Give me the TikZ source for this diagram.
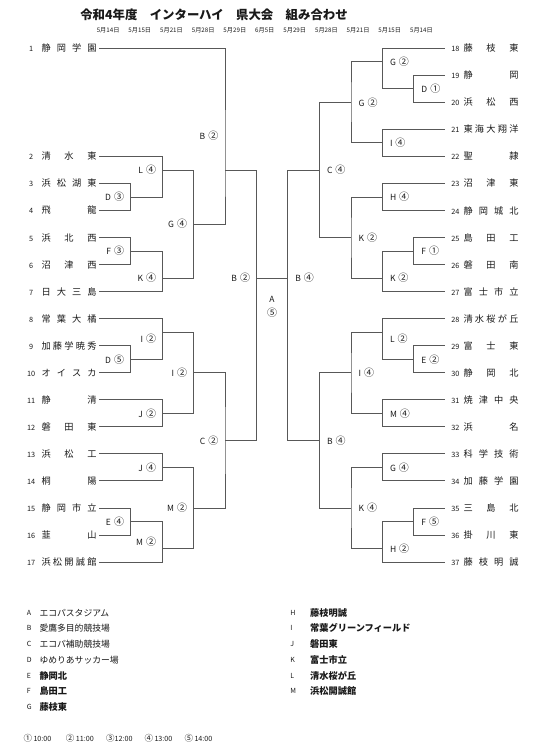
\documentclass[tikz,border=0pt]{standalone}
\usepackage{fontspec}
\setmainfont{Noto Sans CJK JP}
\usepackage{tikz}
\usetikzlibrary{positioning}
\definecolor{wire}{RGB}{88,88,88}
\definecolor{ink}{RGB}{25,25,25}

% spread the characters of a school name over a fixed width
\newcommand\spnm[1]{\makebox[55pt][l]{\spstep#1\relax}}
\def\spstep#1#2{#1\ifx\relax#2\expandafter\spstop\fi\hfill\spstep#2}
\def\spstop#1#2{}
\newcommand\tmL[2]{\makebox[20.8pt]{\fontsize{7.3}{7.3}\selectfont #1}\spnm{#2}}
\newcommand\tmR[2]{\makebox[16.2pt]{\fontsize{7.3}{7.3}\selectfont #1}\spnm{#2}}
% venue letter and kick-off mark
\newcommand\vk[2]{#1\hspace{3pt}{\fontsize{10}{10}\selectfont #2}}

\begin{document}
\begin{tikzpicture}[x=1pt,y=-1pt,
  ln/.style={wire,line width=0.9pt},
  teamL/.style={anchor=east,inner xsep=2.6pt,inner ysep=0pt,text=ink,font=\fontsize{9.2}{9.2}\selectfont},
  teamR/.style={anchor=west,inner xsep=2.6pt,inner ysep=0pt,text=ink,font=\fontsize{9.2}{9.2}\selectfont},
  lbL/.style={anchor=east,inner sep=0pt,xshift=-6.5pt,text=ink,font=\fontsize{8.5}{8.5}\selectfont},
  lbR/.style={anchor=west,inner sep=0pt,xshift=7.5pt,text=ink,font=\fontsize{8.5}{8.5}\selectfont},
  key/.style={anchor=west,inner sep=0pt,text=ink,font=\fontsize{7}{7}\selectfont},
  site/.style={anchor=west,inner sep=0pt,text=ink,font=\fontsize{8.8}{8.8}\selectfont},
  host/.style={anchor=west,inner sep=0pt,text=ink,font=\bfseries\fontsize{9.2}{9.2}\selectfont},
  tm/.style={anchor=west,inner sep=0pt,text=ink,font=\fontsize{7.2}{7.2}\selectfont}]
\useasboundingbox (0,0) rectangle (543,752);
\node[text=ink,font=\bfseries\fontsize{12.4}{12.4}\selectfont] (ttl) at (214,15) {令和4年度　インターハイ　県大会　組み合わせ};
\node[inner sep=0pt,text=ink,font=\fontsize{6.2}{6.2}\selectfont] (dts) at (264.8,30.7)
  {\makebox[336pt]{5月14日\hfill 5月15日\hfill 5月21日\hfill 5月28日\hfill 5月29日\hfill 6月5日\hfill 5月29日\hfill 5月28日\hfill 5月21日\hfill 5月15日\hfill 5月14日}};

\begin{scope}[yshift=-48.3pt,y=-13.52pt]
% left half
\node[teamL] (t1) at (99.3,0) {\tmL{1}{静岡学園}};
\node[teamL] (t2) at (99.3,8) {\tmL{2}{清水東}};
\node[teamL] (t3) at (99.3,10) {\tmL{3}{浜松湖東}};
\node[teamL] (t4) at (99.3,12) {\tmL{4}{飛龍}};
\node[teamL] (t5) at (99.3,14) {\tmL{5}{浜北西}};
\node[teamL] (t6) at (99.3,16) {\tmL{6}{沼津西}};
\node[teamL] (t7) at (99.3,18) {\tmL{7}{日大三島}};
\node[teamL] (t8) at (99.3,20) {\tmL{8}{常葉大橘}};
\node[teamL] (t9) at (99.3,22) {\tmL{9}{加藤学暁秀}};
\node[teamL] (t10) at (99.3,24) {\tmL{10}{オイスカ}};
\node[teamL] (t11) at (99.3,26) {\tmL{11}{静清}};
\node[teamL] (t12) at (99.3,28) {\tmL{12}{磐田東}};
\node[teamL] (t13) at (99.3,30) {\tmL{13}{浜松工}};
\node[teamL] (t14) at (99.3,32) {\tmL{14}{桐陽}};
\node[teamL] (t15) at (99.3,34) {\tmL{15}{静岡市立}};
\node[teamL] (t16) at (99.3,36) {\tmL{16}{韮山}};
\node[teamL] (t17) at (99.3,38) {\tmL{17}{浜松開誠館}};

\coordinate (dD3) at (130.7,11); \draw[ln] (t3.east) -| (dD3) |- (t4.east); \node[lbL] at (130.7,11) {\vk{D}{③}};
\coordinate (dL4) at (162.7,9); \draw[ln] (t2.east) -| (dL4) |- (dD3); \node[lbL] at (162.7,9) {\vk{L}{④}};
\coordinate (dF3) at (130.7,15); \draw[ln] (t5.east) -| (dF3) |- (t6.east); \node[lbL] at (130.7,15) {\vk{F}{③}};
\coordinate (dK4) at (162.7,17); \draw[ln] (dF3) -| (dK4) |- (t7.east); \node[lbL] at (162.7,17) {\vk{K}{④}};
\coordinate (dG4) at (193.7,13); \draw[ln] (dL4) -| (dG4) |- (dK4); \node[lbL] at (193.7,13) {\vk{G}{④}};
\coordinate (dB2a) at (225,9); \draw[ln] (t1.east) -| (dB2a) |- (dG4); \node[lbL] at (225,6.5) {\vk{B}{②}};
\coordinate (dD5) at (130.7,23); \draw[ln] (t9.east) -| (dD5) |- (t10.east); \node[lbL] at (130.7,23) {\vk{D}{⑤}};
\coordinate (dI2a) at (162.7,21); \draw[ln] (t8.east) -| (dI2a) |- (dD5); \node[lbL] at (162.7,21.5) {\vk{I}{②}};
\coordinate (dJ2) at (162.7,27); \draw[ln] (t11.east) -| (dJ2) |- (t12.east); \node[lbL] at (162.7,27) {\vk{J}{②}};
\coordinate (dI2b) at (193.7,24); \draw[ln] (dI2a) -| (dI2b) |- (dJ2); \node[lbL] at (193.7,24) {\vk{I}{②}};
\coordinate (dJ4) at (162.7,31); \draw[ln] (t13.east) -| (dJ4) |- (t14.east); \node[lbL] at (162.7,31) {\vk{J}{④}};
\coordinate (dE4) at (130.7,35); \draw[ln] (t15.east) -| (dE4) |- (t16.east); \node[lbL] at (130.7,35) {\vk{E}{④}};
\coordinate (dM2a) at (162.7,37); \draw[ln] (dE4) -| (dM2a) |- (t17.east); \node[lbL] at (162.7,36.5) {\vk{M}{②}};
\coordinate (dM2b) at (193.7,34); \draw[ln] (dJ4) -| (dM2b) |- (dM2a); \node[lbL] at (193.7,34) {\vk{M}{②}};
\coordinate (dC2) at (225,29); \draw[ln] (dI2b) -| (dC2) |- (dM2b); \node[lbL] at (225,29) {\vk{C}{②}};
\coordinate (dB2b) at (256.7,17); \draw[ln] (dB2a) -| (dB2b) |- (dC2); \node[lbL] at (256.7,17) {\vk{B}{②}};

% right half
\node[teamR] (t18) at (444.5,0) {\tmR{18}{藤枝東}};
\node[teamR] (t19) at (444.5,2) {\tmR{19}{静岡}};
\node[teamR] (t20) at (444.5,4) {\tmR{20}{浜松西}};
\node[teamR] (t21) at (444.5,6) {\tmR{21}{東海大翔洋}};
\node[teamR] (t22) at (444.5,8) {\tmR{22}{聖隷}};
\node[teamR] (t23) at (444.5,10) {\tmR{23}{沼津東}};
\node[teamR] (t24) at (444.5,12) {\tmR{24}{静岡城北}};
\node[teamR] (t25) at (444.5,14) {\tmR{25}{島田工}};
\node[teamR] (t26) at (444.5,16) {\tmR{26}{磐田南}};
\node[teamR] (t27) at (444.5,18) {\tmR{27}{富士市立}};
\node[teamR] (t28) at (444.5,20) {\tmR{28}{清水桜が丘}};
\node[teamR] (t29) at (444.5,22) {\tmR{29}{富士東}};
\node[teamR] (t30) at (444.5,24) {\tmR{30}{静岡北}};
\node[teamR] (t31) at (444.5,26) {\tmR{31}{焼津中央}};
\node[teamR] (t32) at (444.5,28) {\tmR{32}{浜名}};
\node[teamR] (t33) at (444.5,30) {\tmR{33}{科学技術}};
\node[teamR] (t34) at (444.5,32) {\tmR{34}{加藤学園}};
\node[teamR] (t35) at (444.5,34) {\tmR{35}{三島北}};
\node[teamR] (t36) at (444.5,36) {\tmR{36}{掛川東}};
\node[teamR] (t37) at (444.5,38) {\tmR{37}{藤枝明誠}};

\coordinate (rD1) at (413.7,3); \draw[ln] (t19.west) -| (rD1) |- (t20.west); \node[lbR] at (413.7,3) {\vk{D}{①}};
\coordinate (rG2a) at (382.3,1); \draw[ln] (t18.west) -| (rG2a) |- (rD1); \node[lbR] at (382.3,1) {\vk{G}{②}};
\coordinate (rI4a) at (382.3,7); \draw[ln] (t21.west) -| (rI4a) |- (t22.west); \node[lbR] at (382.3,7) {\vk{I}{④}};
\coordinate (rG2b) at (351,4); \draw[ln] (rG2a) -| (rG2b) |- (rI4a); \node[lbR] at (351,4) {\vk{G}{②}};
\coordinate (rH4) at (382.3,11); \draw[ln] (t23.west) -| (rH4) |- (t24.west); \node[lbR] at (382.3,11) {\vk{H}{④}};
\coordinate (rF1) at (413.7,15); \draw[ln] (t25.west) -| (rF1) |- (t26.west); \node[lbR] at (413.7,15) {\vk{F}{①}};
\coordinate (rK2a) at (382.3,17); \draw[ln] (rF1) -| (rK2a) |- (t27.west); \node[lbR] at (382.3,17) {\vk{K}{②}};
\coordinate (rK2b) at (351,14); \draw[ln] (rH4) -| (rK2b) |- (rK2a); \node[lbR] at (351,14) {\vk{K}{②}};
\coordinate (rC4) at (319.3,9); \draw[ln] (rG2b) -| (rC4) |- (rK2b); \node[lbR] at (319.3,9) {\vk{C}{④}};
\coordinate (rE2) at (413.7,23); \draw[ln] (t29.west) -| (rE2) |- (t30.west); \node[lbR] at (413.7,23) {\vk{E}{②}};
\coordinate (rL2) at (382.3,21); \draw[ln] (t28.west) -| (rL2) |- (rE2); \node[lbR] at (382.3,21.5) {\vk{L}{②}};
\coordinate (rM4) at (382.3,27); \draw[ln] (t31.west) -| (rM4) |- (t32.west); \node[lbR] at (382.3,27) {\vk{M}{④}};
\coordinate (rI4b) at (351,24); \draw[ln] (rL2) -| (rI4b) |- (rM4); \node[lbR] at (351,24) {\vk{I}{④}};
\coordinate (rG4) at (382.3,31); \draw[ln] (t33.west) -| (rG4) |- (t34.west); \node[lbR] at (382.3,31) {\vk{G}{④}};
\coordinate (rF5) at (413.7,35); \draw[ln] (t35.west) -| (rF5) |- (t36.west); \node[lbR] at (413.7,35) {\vk{F}{⑤}};
\coordinate (rH2) at (382.3,37); \draw[ln] (rF5) -| (rH2) |- (t37.west); \node[lbR] at (382.3,37) {\vk{H}{②}};
\coordinate (rK4) at (351,34); \draw[ln] (rG4) -| (rK4) |- (rH2); \node[lbR] at (351,34) {\vk{K}{④}};
\coordinate (rB4a) at (319.3,29); \draw[ln] (rI4b) -| (rB4a) |- (rK4); \node[lbR] at (319.3,29) {\vk{B}{④}};
\coordinate (rB4b) at (287.7,17); \draw[ln] (rC4) -| (rB4b) |- (rB4a); \node[lbR] at (287.7,17) {\vk{B}{④}};

% final
\draw[ln] (dB2b) -- (rB4b);
\node[inner sep=0pt,text=ink,font=\fontsize{8.5}{8.5}\selectfont] (fA) at (272,18.57) {A};
\node[inner sep=0pt,text=ink,font=\fontsize{10}{10}\selectfont] (f5) at (272,19.53) {⑤};
\end{scope}

% venues
\node[key] (kA) at (26.8,612.7) {A}; \node[site] (vA) at (39.3,612.7) {エコパスタジアム};
\node[key] (kB) at (26.8,628.4) {B}; \node[site] (vB) at (39.3,628.4) {愛鷹多目的競技場};
\node[key] (kC) at (26.8,644.1) {C}; \node[site] (vC) at (39.3,644.1) {エコパ補助競技場};
\node[key] (kD) at (26.8,659.8) {D}; \node[site] (vD) at (39.3,659.8) {ゆめりあサッカー場};
\node[key] (kE) at (26.8,675.5) {E}; \node[host] (vE) at (39.3,675.5) {静岡北};
\node[key] (kF) at (26.8,691.2) {F}; \node[host] (vF) at (39.3,691.2) {島田工};
\node[key] (kG) at (26.8,706.9) {G}; \node[host] (vG) at (39.3,706.9) {藤枝東};
\node[key] (kH) at (290.2,612.7) {H}; \node[host] (vH) at (310,612.7) {藤枝明誠};
\node[key] (kI) at (290.2,628.4) {I}; \node[host] (vI) at (310,628.4) {常葉グリーンフィールド};
\node[key] (kJ) at (290.2,644.1) {J}; \node[host] (vJ) at (310,644.1) {磐田東};
\node[key] (kK) at (290.2,659.8) {K}; \node[host] (vK) at (310,659.8) {富士市立};
\node[key] (kL) at (290.2,675.5) {L}; \node[host] (vL) at (310,675.5) {清水桜が丘};
\node[key] (kM) at (290.2,691.2) {M}; \node[host] (vM) at (310,691.2) {浜松開誠館};

% kick-off times
\node[tm] (h1) at (23.3,738.3) {{\fontsize{8.5}{8.5}\selectfont ①}\hspace{1.5pt}10:00};
\node[tm] (h2) at (65.7,738.3) {{\fontsize{8.5}{8.5}\selectfont ②}\hspace{1.5pt}11:00};
\node[tm] (h3) at (106,738.3) {{\fontsize{8.5}{8.5}\selectfont ③}12:00};
\node[tm] (h4) at (144.3,738.3) {{\fontsize{8.5}{8.5}\selectfont ④}\hspace{1.5pt}13:00};
\node[tm] (h5) at (184.3,738.3) {{\fontsize{8.5}{8.5}\selectfont ⑤}\hspace{1.5pt}14:00};
\end{tikzpicture}
\end{document}
